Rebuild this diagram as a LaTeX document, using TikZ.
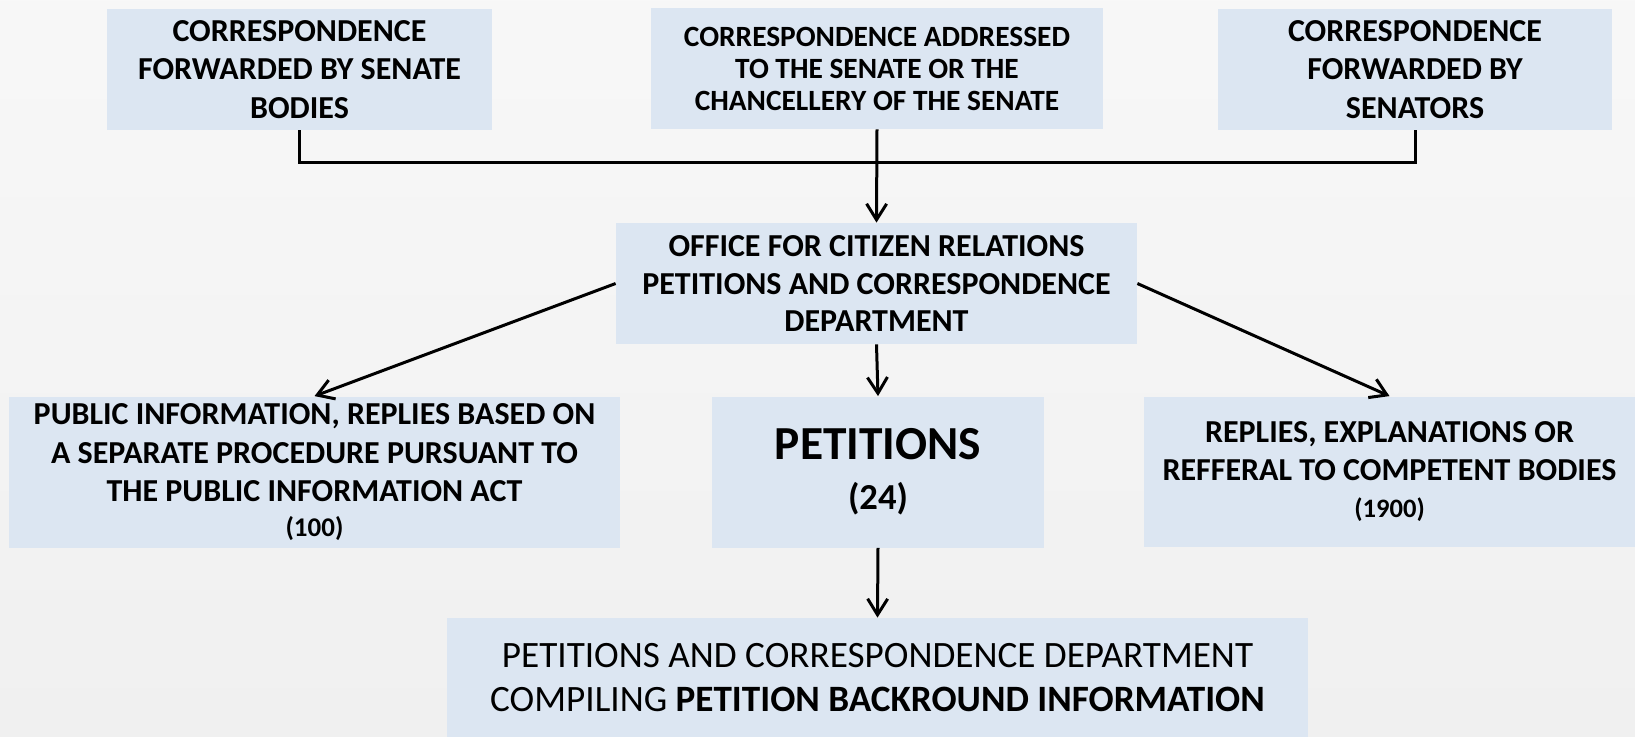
\documentclass[tikz,border=0pt]{standalone}
\usepackage{fontspec}
\setmainfont{Carlito}
\usepackage{tikz}
\usetikzlibrary{arrows.meta}

\definecolor{boxblue}{RGB}{220,230,242}
\definecolor{backgray}{RGB}{240,240,240}

\tikzset{
  box/.style={fill=boxblue, draw=none, inner sep=0pt, align=center, font=\bfseries\fontsize{16}{19.2}\selectfont},
  link/.style={line width=1.5pt},
  flow/.style={line width=1.5pt, -{Straight Barb[length=8pt,width=10pt,line width=1.5pt]}}
}

\begin{document}
\begin{tikzpicture}[x=0.5pt, y=-0.5pt]
             % background
             \fill[top color=backgray!50, bottom color=backgray] (0,0) rectangle (1635,736);
             \useasboundingbox (0,0) rectangle (1635,736);

             % sources
             \node[box, minimum width=192.5pt, minimum height=60.5pt] (bodies) at (299.5,69.5)
               {CORRESPONDENCE\\FORWARDED BY SENATE\\BODIES};
             \node[box, minimum width=226pt, minimum height=60.5pt, font=\bfseries\fontsize{14.7}{16}\selectfont] (senate) at (877,68.5)
               {CORRESPONDENCE ADDRESSED\\TO THE SENATE OR THE\\CHANCELLERY OF THE SENATE};
             \node[box, minimum width=197pt, minimum height=60.5pt] (senators) at (1415,69.5)
               {CORRESPONDENCE\\FORWARDED BY\\SENATORS};

             % office
             \node[box, minimum width=260.5pt, minimum height=60.5pt, font=\bfseries\fontsize{16}{18.75}\selectfont] (office) at (876.5,283.5)
               {OFFICE FOR CITIZEN RELATIONS\\PETITIONS AND CORRESPONDENCE\\DEPARTMENT};

             % outcomes
             \node[box, minimum width=305.5pt, minimum height=75.5pt] (public) at (314.5,472)
               {PUBLIC INFORMATION, REPLIES BASED ON\\A SEPARATE PROCEDURE PURSUANT TO\\THE PUBLIC INFORMATION ACT\\[-2pt]{\fontsize{13.5}{16}\selectfont (100)}};
             \node[box, minimum width=166pt, minimum height=75.5pt] (petitions) at (878,472)
               {{\fontsize{23.7}{26}\selectfont PETITIONS}\\[6pt]{\fontsize{18.3}{21}\selectfont (24)}};
             \node[box, minimum width=245.5pt, minimum height=75pt] (replies) at (1389.5,471.5)
               {REPLIES, EXPLANATIONS OR\\REFFERAL TO COMPETENT BODIES\\[-1pt]{\fontsize{13.3}{16}\selectfont (1900)}};

             % background information
             \node[box, minimum width=430.5pt, minimum height=59.5pt, font=\fontsize{18.6}{22}\selectfont] (backinfo) at (877.5,677.5)
               {PETITIONS AND CORRESPONDENCE DEPARTMENT\\COMPILING \textbf{PETITION BACKROUND INFORMATION}};

             % connectors
             \coordinate (bar) at (877,162);
             \draw[link] (bodies.south) -- (bodies.south |- bar) -- (senators.south |- bar) -- (senators.south);
             \draw[flow] (senate.south) -- (office.north);
             \draw[flow] (office.west) -- (public.north);
             \draw[flow] (office.east) -- (replies.north);
             \draw[flow] (office.south) -- (petitions.north);
             \draw[flow] (petitions.south) -- (backinfo.north);
\end{tikzpicture}
\end{document}
